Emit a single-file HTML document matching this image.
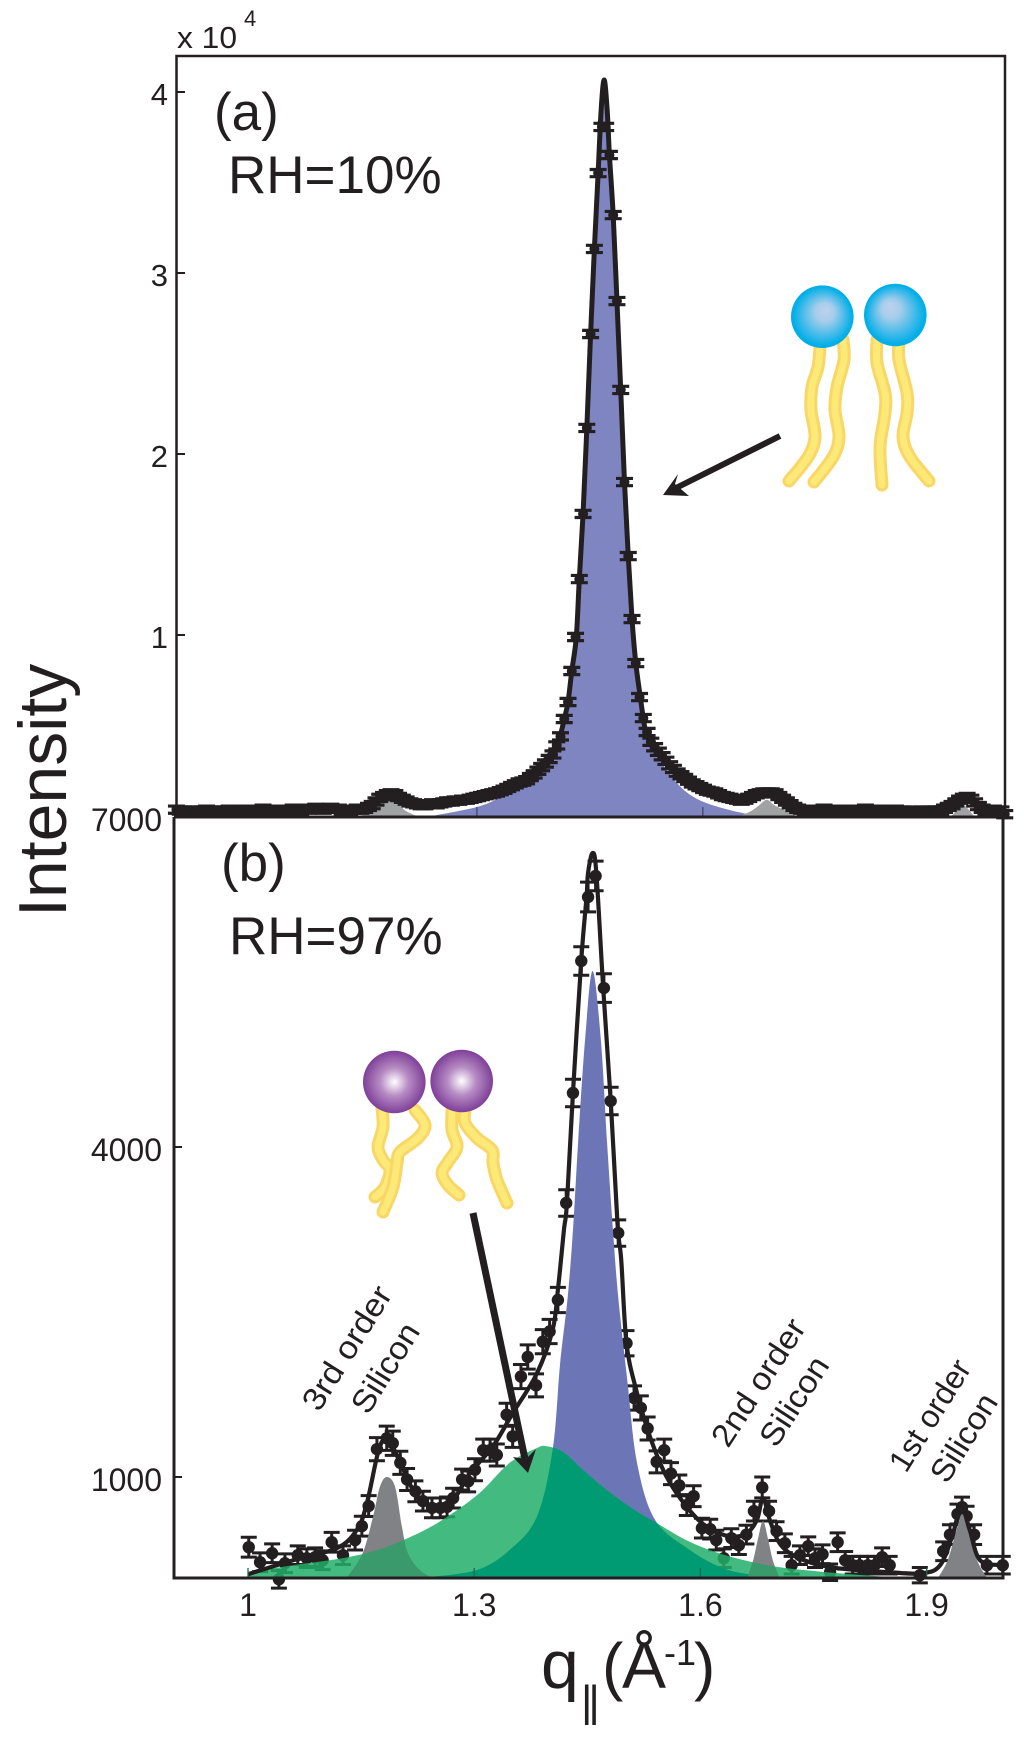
<!DOCTYPE html>
<html lang="en">
<head>
<meta charset="utf-8">
<title>Intensity vs q at RH 10% and 97%</title>
<style>
html,body{margin:0;padding:0;background:#fff;}
svg{display:block;}
text{font-family:"Liberation Sans",sans-serif;fill:#231f20;}
</style>
</head>
<body>
<svg id="chart" xmlns="http://www.w3.org/2000/svg" width="1024" height="1737" viewBox="0 0 1024 1737">
<defs>
<radialGradient id="blueHeadA" cx="0.5" cy="0.5" r="0.5" fx="0.56" fy="0.4"><stop offset="0" stop-color="#bdd2ec"/><stop offset="0.3" stop-color="#a6cdeb"/><stop offset="0.95" stop-color="#00aee8"/></radialGradient>
<radialGradient id="blueHeadB" cx="0.5" cy="0.5" r="0.5" fx="0.4" fy="0.36"><stop offset="0" stop-color="#bdd2ec"/><stop offset="0.3" stop-color="#a6cdeb"/><stop offset="0.95" stop-color="#00aee8"/></radialGradient>
<radialGradient id="purpleHead" cx="0.5" cy="0.5" r="0.5"><stop offset="0" stop-color="#ffffff"/><stop offset="0.45" stop-color="#b78cc4"/><stop offset="1" stop-color="#7e3f98"/></radialGradient>
<clipPath id="clipBlue"><path id="clipBluePath" d=""/></clipPath>
<clipPath id="clipGreen"><path id="clipGreenPath" d=""/></clipPath>
</defs>
<rect x="0" y="0" width="1024" height="1737" fill="#fff"/>

<g id="panelA"></g>
<g id="panelB"></g>

<rect x="176.5" y="56" width="828.5" height="761" fill="none" stroke="#231f20" stroke-width="2.5"/>
<path d="M174 817V1578H1003V817" fill="none" stroke="#231f20" stroke-width="3"/>
<line x1="174" y1="817" x2="1005" y2="817" stroke="#231f20" stroke-width="3"/>

<g id="axisLabels"></g>

<text x="177" y="48" font-size="31" textLength="60" lengthAdjust="spacingAndGlyphs">x 10</text>
<text x="244" y="26" font-size="22">4</text>
<text x="214" y="130" font-size="53">(a)</text>
<text x="228" y="193" font-size="53">RH=10%</text>
<text x="221" y="881" font-size="53">(b)</text>
<text x="229" y="954" font-size="53">RH=97%</text>
<text transform="translate(66,917) rotate(-90)" font-size="68">Intensity</text>

<text x="541" y="1688" font-size="68">q</text>
<text x="581" y="1716" font-size="44" letter-spacing="-4">||</text>
<text x="602" y="1688" font-size="64">(</text>
<text x="622" y="1688" font-size="66">Å</text>
<text x="664" y="1665" font-size="36">-1</text>
<text x="694" y="1688" font-size="64">)</text>

<text transform="translate(319,1413) rotate(-58)" font-size="32" textLength="140" lengthAdjust="spacingAndGlyphs">3rd order</text>
<text transform="translate(368,1416) rotate(-58)" font-size="32" textLength="100" lengthAdjust="spacingAndGlyphs">Silicon</text>
<text transform="translate(728,1449) rotate(-57)" font-size="32" textLength="145" lengthAdjust="spacingAndGlyphs">2nd order</text>
<text transform="translate(776,1449) rotate(-57)" font-size="32" textLength="100" lengthAdjust="spacingAndGlyphs">Silicon</text>
<text transform="translate(906,1474) rotate(-58)" font-size="32" textLength="125" lengthAdjust="spacingAndGlyphs">1st order</text>
<text transform="translate(947,1485) rotate(-58)" font-size="32" textLength="98" lengthAdjust="spacingAndGlyphs">Silicon</text>

<g>
<line x1="780" y1="436" x2="672" y2="490" stroke="#231f20" stroke-width="6"/>
<polygon points="663,495 678,474 675,484 689,496" fill="#231f20"/>
</g>
<g>
<line x1="473" y1="1213" x2="525" y2="1459" stroke="#231f20" stroke-width="7"/>
<polygon points="528,1473 513,1457 526,1459 536,1449" fill="#231f20"/>
</g>

<g id="lipidA"></g>
<circle cx="822.3" cy="316.7" r="31.3" fill="url(#blueHeadA)"/>
<circle cx="895.3" cy="315" r="31.3" fill="url(#blueHeadB)"/>
<g id="lipidB"></g>
<circle cx="394.3" cy="1082" r="31.3" fill="url(#purpleHead)"/>
<circle cx="461.7" cy="1081" r="31.3" fill="url(#purpleHead)"/>
</svg>

<script>
// ---------- Panel (a) data (intensity in units of 10^4) ----------
const topTickValues = [1, 2, 3, 4];
const topTickLabels = ['1', '2', '3', '4'];
const topXTickValues = [1.3, 1.6];

const topFitQ = [0.901,0.999,1.088,1.131,1.158,1.182,1.205,1.231,1.287,1.331,1.367,1.397,1.41,1.416,1.421,1.426,1.432,1.436,1.441,1.446,1.451,1.456,1.461,1.465,1.469,1.473,1.476,1.481,1.486,1.491,1.496,1.501,1.506,1.511,1.517,1.521,1.525,1.539,1.556,1.579,1.606,1.649,1.665,1.685,1.705,1.725,1.862,1.906,1.926,1.946,1.961,1.975,2.004];
const topFitV = [0.027,0.027,0.027,0.038,0.077,0.11,0.093,0.065,0.093,0.148,0.225,0.341,0.441,0.536,0.63,0.801,0.989,1.309,1.669,2.144,2.663,3.133,3.552,3.9,4.066,3.9,3.652,3.32,2.845,2.354,1.845,1.436,1.088,0.845,0.657,0.541,0.464,0.38,0.27,0.181,0.143,0.088,0.099,0.126,0.088,0.043,0.043,0.043,0.077,0.11,0.077,0.038,0.01];

const topPeakQ = [1.24,1.30,1.33,1.367,1.397,1.41,1.416,1.421,1.426,1.432,1.436,1.441,1.446,1.451,1.456,1.461,1.465,1.469,1.473,1.476,1.481,1.486,1.491,1.496,1.501,1.506,1.511,1.517,1.521,1.525,1.539,1.556,1.579,1.606,1.649,1.68];
const topPeakV = [0,0.05,0.1,0.18,0.3,0.4,0.5,0.6,0.78,0.98,1.31,1.66,2.14,2.66,3.13,3.55,3.88,4.03,3.88,3.64,3.31,2.84,2.35,1.84,1.43,1.08,0.84,0.65,0.53,0.45,0.34,0.23,0.13,0.07,0.02,0];

const topSiliconAQ = [1.145,1.16,1.17,1.182,1.195,1.205,1.22];
const topSiliconAV = [0,0.03,0.07,0.09,0.07,0.03,0];
const topSiliconBQ = [1.65,1.665,1.675,1.685,1.695,1.71,1.725];
const topSiliconBV = [0,0.03,0.06,0.09,0.06,0.03,0];
const topSiliconCQ = [1.93,1.94,1.946,1.952,1.96];
const topSiliconCV = [0,0.04,0.06,0.04,0];

const topLeftStartQ = 0.901;
const topPeakStartQ = 1.411;
const topRightStartQ = 1.531;
const topStepQ = 0.005;
const topErr = 0.02;
const topLeftV = [0.035,0.03,0.03,0.025,0.03,0.03,0.025,0.03,0.035,0.03,0.025,0.03,0.03,0.03,0.035,0.025,0.03,0.03,0.035,0.03,0.02,0.03,0.035,0.04,0.03,0.035,0.03,0.03,0.035,0.03,0.035,0.04,0.035,0.03,0.04,0.035,0.04,0.045,0.04,0.035,0.04,0.045,0.04,0.04,0.03,0.03,0.03,0.035,0.04,0.035,
0.04,0.05,0.06,0.08,0.10,0.11,0.12,0.125,0.12,0.105,0.095,0.085,0.075,0.07,0.065,0.06,0.06,0.065,0.07,0.065,0.07,0.075,0.08,0.08,0.085,0.085,0.09,0.09,0.095,0.10,0.105,0.11,0.115,0.12,0.125,0.13,0.137,0.145,0.155,0.165,0.175,0.185,0.19,0.198,0.215,0.23,0.25,0.27,0.29,0.315,0.34,0.39];
const topCentreV = [0.44,0.536,0.63,0.801,0.989,1.309,1.669,2.144,2.663,3.133,3.552,3.807,3.807,3.652,3.32,2.845,2.354,1.845,1.436,1.088,0.845,0.657,0.541,0.464];
const topRightV = [0.41,0.38,0.355,0.33,0.305,0.28,0.26,0.24,0.225,0.21,0.195,0.18,0.17,0.16,0.15,0.14,0.135,0.13,0.12,0.11,0.105,0.10,0.095,0.09,0.085,0.09,0.10,0.11,0.12,0.125,0.13,0.13,0.13,0.125,0.11,0.095,0.08,0.065,0.05,0.04,
0.035,0.03,0.035,0.03,0.03,0.035,0.04,0.035,0.03,0.035,0.03,0.03,0.035,0.03,0.035,0.03,0.035,0.04,0.03,0.03,0.035,0.03,0.035,0.03,0.03,0.035,0.03,0.03,0.025,0.025,0.03,0.025,0.03,0.025,0.03,0.03,0.03,
0.03,0.04,0.05,0.06,0.075,0.09,0.10,0.105,0.095,0.075,0.055,0.04,0.03,0.03,0.035,0.03,0.03,0.01];

// ---------- Panel (b) data (raw counts) ----------
const bottomTickValues = [1000, 4000, 7000];
const bottomTickLabels = ['1000', '4000', '7000'];
const bottomXTickValues = [1, 1.3, 1.6, 1.9];
const bottomXTickLabels = ['1', '1.3', '1.6', '1.9'];

const bottomFitQ = [1.000,1.060,1.118,1.145,1.158,1.171,1.179,1.188,1.202,1.224,1.251,1.272,1.294,1.325,1.351,1.383,1.404,1.411,1.419,1.423,1.431,1.442,1.449,1.451,1.457,1.462,1.471,1.481,1.490,1.495,1.502,1.515,1.533,1.555,1.582,1.608,1.639,1.661,1.675,1.683,1.692,1.705,1.728,1.772,1.851,1.895,1.918,1.934,1.946,1.957,1.971,2.001];
const bottomFitV = [116,243,353,526,772,1183,1334,1324,1129,826,719,789,1031,1280,1579,1940,2337,2700,3245,3491,4491,5700,6273,6491,6673,6491,5455,4427,3309,2973,2216,1788,1369,1004,728,549,460,487,611,808,611,398,271,180,134,125,198,462,728,522,243,198];

const bottomBlueQ = [1.24,1.304,1.347,1.383,1.404,1.414,1.424,1.431,1.438,1.447,1.457,1.468,1.476,1.484,1.491,1.503,1.516,1.54,1.586,1.626,1.662,1.719];
const bottomBlueV = [90,155,336,636,1245,2036,2636,3245,4064,4973,5600,4973,4064,3245,2636,1882,1127,609,336,182,118,82];

const bottomGreenQ = [1.000,1.060,1.126,1.171,1.206,1.251,1.304,1.347,1.383,1.396,1.418,1.444,1.476,1.511,1.542,1.586,1.635,1.696,1.762,1.855];
const bottomGreenV = [134,198,262,335,426,581,836,1129,1263,1280,1227,1066,881,708,581,410,285,190,138,88];

const silicon3Q = [1.131,1.152,1.166,1.175,1.184,1.195,1.204,1.212,1.228,1.245];
const silicon3V = [82,307,644,912,1000,912,553,307,152,82];
const silicon2Q = [1.662,1.670,1.676,1.683,1.690,1.696,1.705];
const silicon2V = [82,243,426,599,426,243,82];
const silicon1Q = [1.915,1.928,1.940,1.947,1.955,1.967,1.980];
const silicon1V = [82,243,526,663,526,243,82];

const bottomDataQ = [
1.001,1.016,1.032,1.041,1.049,1.066,1.078,1.089,1.099,1.111,
1.126,1.142,1.151,1.160,1.171,1.184,1.192,1.202,1.211,1.222,
1.232,1.244,1.255,1.264,1.272,1.284,1.292,1.301,1.312,1.321,
1.330,1.343,1.351,1.362,1.371,1.382,1.391,1.400,1.411,1.422,
1.431,1.442,1.451,1.461,1.472,1.481,1.491,1.502,1.512,1.521,
1.530,1.542,1.552,1.561,1.572,1.582,1.591,1.602,1.613,1.621,
1.631,1.641,1.651,1.661,1.671,1.682,1.691,1.701,1.712,1.721,
1.732,1.743,1.752,1.762,1.772,1.782,1.792,1.802,1.811,1.822,
1.831,1.841,1.851,1.891,1.922,1.931,1.941,1.947,1.953,1.963,
1.980,2.001];
const bottomDataV = [
362,225,307,70,216,289,262,271,243,407,
289,426,553,736,1253,1352,1307,1129,977,870,
781,719,719,728,808,977,960,1066,1244,1244,
1200,1566,1369,1913,2091,1833,2230,2323,2609,3491,
4491,5691,6273,6464,5445,4418,3218,2216,1718,1628,
1441,1138,1244,1031,923,745,826,535,526,426,
262,444,380,476,690,905,690,508,398,198,
289,371,262,298,134,407,243,198,198,198,
198,271,198,107,325,476,663,727,644,476,
198,198];
const bottomDataErr = [
90,85,85,80,85,85,85,85,85,90,
85,90,90,95,105,110,110,105,100,95,
90,90,90,90,90,95,95,100,100,100,
100,105,100,110,110,105,110,110,115,120,
125,130,135,135,130,125,120,115,110,110,
105,100,100,100,95,95,95,90,90,90,
85,85,85,85,90,95,90,85,85,80,
85,85,85,85,75,85,80,80,80,80,
80,85,80,70,85,90,90,90,90,90,
80,80];

// ---------- Axis functions ----------
const xA = q => 251 + (q - 1) * 753;
const yA = v => 816 - v * 181;
const xB = q => 248 + (q - 1) * 754;
const yB = v => 1477 - (v - 1000) * 0.11;

const SVGNS = 'http://www.w3.org/2000/svg';
const INK = '#231f20';
const panelA = document.getElementById('panelA');
const panelB = document.getElementById('panelB');
const labels = document.getElementById('axisLabels');

function make(tag, attrs, parent) {
  const el = document.createElementNS(SVGNS, tag);
  for (const k in attrs) el.setAttribute(k, attrs[k]);
  parent.appendChild(el);
  return el;
}
function smooth(pts) {
  let d = 'M' + pts[0][0].toFixed(2) + ' ' + pts[0][1].toFixed(2);
  for (let i = 0; i < pts.length - 1; i++) {
    const p0 = pts[Math.max(i - 1, 0)], p1 = pts[i], p2 = pts[i + 1], p3 = pts[Math.min(i + 2, pts.length - 1)];
    const c1x = p1[0] + (p2[0] - p0[0]) / 6, c1y = p1[1] + (p2[1] - p0[1]) / 6;
    const c2x = p2[0] - (p3[0] - p1[0]) / 6, c2y = p2[1] - (p3[1] - p1[1]) / 6;
    d += 'C' + c1x.toFixed(2) + ' ' + c1y.toFixed(2) + ' ' + c2x.toFixed(2) + ' ' + c2y.toFixed(2) + ' ' + p2[0].toFixed(2) + ' ' + p2[1].toFixed(2);
  }
  return d;
}
function linePath(qs, vs, xf, yf) {
  return smooth(qs.map((q, i) => [xf(q), yf(vs[i])]));
}
function areaPath(qs, vs, xf, yf, baseY) {
  const first = xf(qs[0]), last = xf(qs[qs.length - 1]);
  return linePath(qs, vs, xf, yf) + 'L' + last.toFixed(2) + ' ' + baseY + 'L' + first.toFixed(2) + ' ' + baseY + 'Z';
}
function marker(parent, x, y, errPx, capHalf, r, capWidth) {
  const g = make('g', {}, parent);
  make('path', {
    d: 'M' + x + ' ' + (y - errPx) + 'V' + (y + errPx) +
       'M' + (x - capHalf) + ' ' + (y - errPx) + 'H' + (x + capHalf) +
       'M' + (x - capHalf) + ' ' + (y + errPx) + 'H' + (x + capHalf),
    stroke: INK, 'stroke-width': capWidth, fill: 'none'
  }, g);
  make('circle', { cx: x, cy: y, r: r, fill: INK }, g);
  return g;
}

// ---------- Panel (a) drawing ----------
const topBlue = make('path', { d: areaPath(topPeakQ, topPeakV, xA, yA, 816), fill: '#7f85c1' }, panelA);



[[topSiliconAQ, topSiliconAV], [topSiliconBQ, topSiliconBV], [topSiliconCQ, topSiliconCV]].forEach(pair => {
  const s = make('path', { d: areaPath(pair[0], pair[1], xA, yA, 816), fill: '#a0a2a4' }, panelA);
  
  
});

topXTickValues.forEach(q => {
  const t = make('line', { x1: xA(q), x2: xA(q), y1: 807, y2: 816, stroke: '#4a4d7a', 'stroke-width': 1.5 }, panelA);
  
  
});

const topFit = make('path', { d: linePath(topFitQ, topFitV, xA, yA), fill: 'none', stroke: INK, 'stroke-width': 5, 'stroke-linejoin': 'round' }, panelA);



const topPointGroup = make('g', {}, panelA);


function drawTop(values, startQ) {
  values.forEach((v, i) => {
    const q = startQ + i * topStepQ;
    const errPx = yA(0) - yA(topErr);
    const m = marker(topPointGroup, xA(q), yA(v), errPx, 8.5, 5, 3.2);
    
    
  });
}
drawTop(topLeftV, topLeftStartQ);
drawTop(topCentreV, topPeakStartQ);
drawTop(topRightV, topRightStartQ);

topTickValues.forEach((v, i) => {
  const t = make('line', { x1: 176.5, x2: 185, y1: yA(v), y2: yA(v), stroke: INK, 'stroke-width': 2 }, panelA);
  
  
  const l = make('text', { x: 168, y: yA(v) + 13, 'font-size': 31, 'text-anchor': 'end' }, labels);
  l.textContent = topTickLabels[i];
  
  
});

// ---------- Panel (b) drawing ----------
const bottomPointGroup = make('g', {}, panelB);


bottomDataQ.forEach((q, i) => {
  const errPx = bottomDataErr[i] * 0.11;
  const m = marker(bottomPointGroup, xB(q), yB(bottomDataV[i]), errPx, 8, 6.2, 3);
  
  
});

const blueD = areaPath(bottomBlueQ, bottomBlueV, xB, yB, 1578);
const greenD = areaPath(bottomGreenQ, bottomGreenV, xB, yB, 1578);
document.getElementById('clipBluePath').setAttribute('d', blueD);
document.getElementById('clipGreenPath').setAttribute('d', greenD);

const bBlue = make('path', { d: blueD, fill: '#6c76b7' }, panelB);



const bGreen = make('path', { d: greenD, fill: '#22ae68', 'fill-opacity': 0.85 }, panelB);



const bOverlap = make('path', { d: greenD, fill: '#009b72', 'clip-path': 'url(#clipBlue)' }, panelB);



[[silicon3Q, silicon3V], [silicon2Q, silicon2V], [silicon1Q, silicon1V]].forEach(pair => {
  const d = areaPath(pair[0], pair[1], xB, yB, 1578);
  const s = make('path', { d: d, fill: '#808285' }, panelB);
  
  
  const o = make('path', { d: d, fill: '#3a9a6b', 'clip-path': 'url(#clipGreen)' }, panelB);
  
  
});

const bFit = make('path', { d: linePath(bottomFitQ, bottomFitV, xB, yB), fill: 'none', stroke: INK, 'stroke-width': 4.2, 'stroke-linejoin': 'round' }, panelB);



bottomTickValues.forEach((v, i) => {
  const y = yB(v);
  const t = make('line', { x1: 174, x2: 182, y1: y, y2: y, stroke: INK, 'stroke-width': 2 }, panelB);
  
  
  const l = make('text', { x: 162, y: y + 14, 'font-size': 32, 'text-anchor': 'end' }, labels);
  l.textContent = bottomTickLabels[i];
  
  
});
bottomXTickValues.forEach((q, i) => {
  const t = make('line', { x1: xB(q), x2: xB(q), y1: 1568, y2: 1577, stroke: '#1d6b4f', 'stroke-width': 1.3 }, panelB);
  
  
  const l = make('text', { x: xB(q), y: 1616, 'font-size': 32, 'text-anchor': 'middle' }, labels);
  l.textContent = bottomXTickLabels[i];
  
  
});

// ---------- Lipid icons ----------
const lipidTailsA = [
  [[820,347],[818,367],[812,387],[811,410],[815,437],[808,457],[789,481]],
  [[843,340],[844,360],[837,387],[835,410],[839,437],[833,457],[814,482]],
  [[877,340],[877,363],[885,393],[885,413],[880,447],[882,485]],
  [[899,343],[899,360],[907,393],[907,413],[903,437],[910,457],[929,481]]
];
const lipidTailsB = [
  [[382,1108],[383,1127],[378,1147],[383,1160],[390,1170],[385,1187],[375,1197]],
  [[415,1110],[425,1125],[418,1138],[400,1152],[397,1163],[393,1187],[383,1212]],
  [[452,1110],[452,1130],[457,1147],[448,1162],[442,1173],[448,1185],[459,1195]],
  [[465,1110],[465,1123],[477,1138],[492,1150],[493,1163],[497,1180],[507,1203]]
];
function drawTails(groupId, tails) {
  const g = document.getElementById(groupId);
  tails.forEach(pts => {
    const d = smooth(pts);
    const outer = make('path', { d: d, fill: 'none', stroke: '#f9d766', 'stroke-width': 13, 'stroke-linecap': 'round', 'stroke-linejoin': 'round' }, g);
    
    
    const inner = make('path', { d: d, fill: 'none', stroke: '#fde978', 'stroke-width': 7, 'stroke-linecap': 'round', 'stroke-linejoin': 'round' }, g);
    
    
  });
}
drawTails('lipidA', lipidTailsA);
drawTails('lipidB', lipidTailsB);
</script>
</body>
</html>
